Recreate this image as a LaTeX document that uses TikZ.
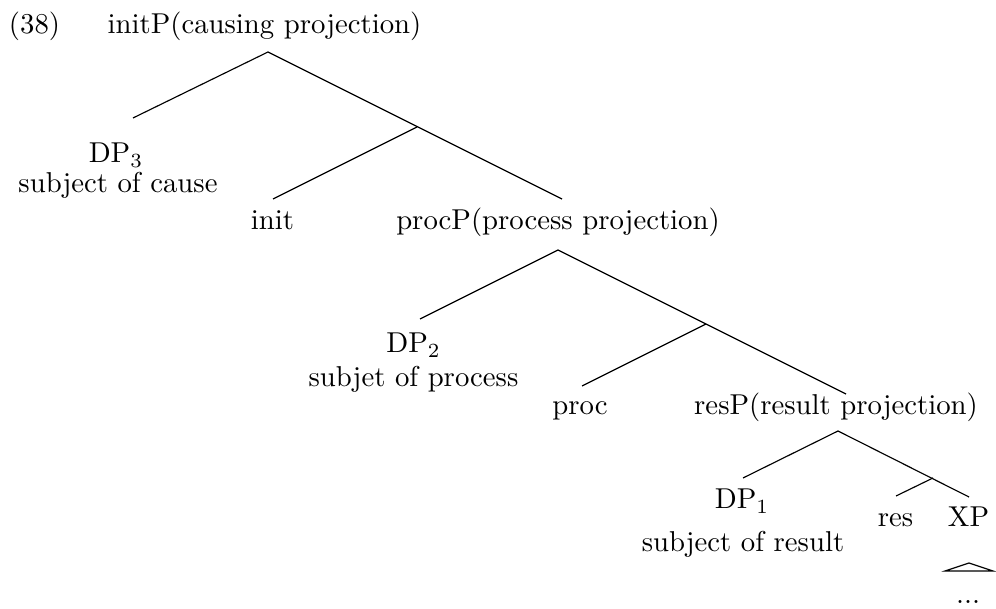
\documentclass[tikz,border=0pt]{standalone}
\usepackage{amssymb}
\usepackage{amsmath}
\usepackage{tikz}

\begin{document}
\begin{tikzpicture}[x=0.348pt,y=0.348pt,yscale=-1,
    lbl/.style={anchor=base,inner sep=0pt},
    branch/.style={line width=0.4pt}]
    \useasboundingbox (0,0) rectangle (996,609);

    % Text Node
    \node[lbl] (ex) at (34.5,34) {(38)};
    % Text Node
    \node[lbl] (initP) at (264.5,34) {initP(causing projection)};
    % Text Node
    \node[lbl] (dpc) at (116,163) {DP$_3$};
    % Text Node
    \node[lbl] (subjc) at (118,193) {subject of cause};
    % Text Node
    \node[lbl] (init) at (272.5,230) {init};
    % Text Node
    \node[lbl] (procP) at (558,230) {procP(process projection)};
    % Text Node
    \node[lbl] (dpb) at (413.5,353) {DP$_2$};
    % Text Node
    \node[lbl] (subjb) at (413.5,387) {subjet of process};
    % Text Node
    \node[lbl] (proc) at (580,415) {proc};
    % Text Node
    \node[lbl] (resP) at (836,415) {resP(result projection)};
    % Text Node
    \node[lbl] (dpa) at (742,509) {DP$_1$};
    % Text Node
    \node[lbl] (subja) at (743,552) {subject of result};
    % Text Node
    \node[lbl] (res) at (895.5,527) {res};
    % Text Node
    \node[lbl] (xp) at (968.5,527) {XP};
    % Text Node
    \node[lbl] (dots) at (968,604) {...};

    %Branch ends
    \coordinate (initP-b) at (268,52);
    \coordinate (dpc-t) at (133,118);
    \coordinate (procP-t) at (562,199);
    \coordinate (initbar) at (417,127);
    \coordinate (init-t) at (273,199);
    \coordinate (procP-b) at (558,250);
    \coordinate (dpb-t) at (420,319);
    \coordinate (resP-t) at (846,394);
    \coordinate (procbar) at (706,324);
    \coordinate (proc-t) at (582,386);
    \coordinate (resP-b) at (838,431);
    \coordinate (dpa-t) at (743,478);
    \coordinate (xp-t) at (969,497);
    \coordinate (resbar) at (933,478);
    \coordinate (res-t) at (896,496);

    %Straight Lines
    \draw[branch] (dpc-t) -- (initP-b) -- (procP-t);
    \draw[branch] (initbar) -- (init-t);
    \draw[branch] (dpb-t) -- (procP-b) -- (resP-t);
    \draw[branch] (procbar) -- (proc-t);
    \draw[branch] (dpa-t) -- (resP-b) -- (xp-t);
    \draw[branch] (resbar) -- (res-t);

    %Shape: Triangle
    \draw[branch] (969,563) -- (993,571) -- (945,571) -- cycle;
\end{tikzpicture}
\end{document}
